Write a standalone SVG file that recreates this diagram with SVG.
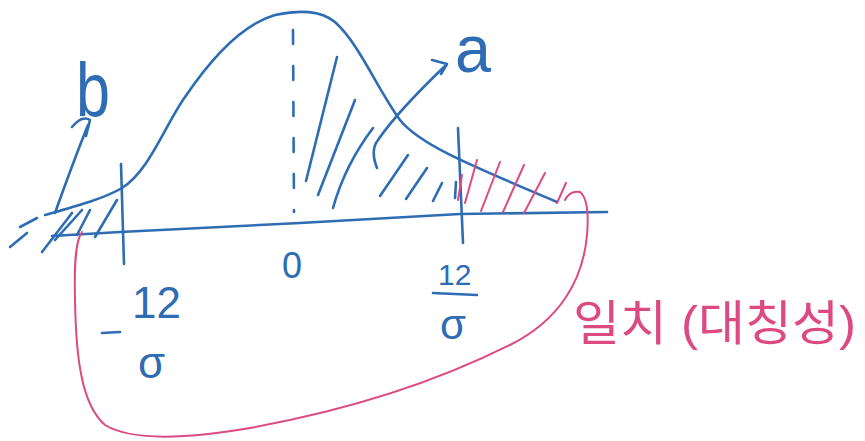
<svg xmlns="http://www.w3.org/2000/svg" width="865" height="441" viewBox="0 0 865 441">
<style>
.b{fill:none;stroke:#2e6cb3;stroke-width:2.6;stroke-linecap:round;stroke-linejoin:round}
.p{fill:none;stroke:#dd4a82;stroke-width:2;stroke-linecap:round;stroke-linejoin:round}
.bt{fill:#2e6cb3;font-family:"Liberation Sans","DejaVu Sans",sans-serif}
.pt{fill:#dd4a82;font-family:"Liberation Sans","Noto Sans CJK KR",sans-serif}
</style>
<rect width="865" height="441" fill="#ffffff"/>
<g id="axis">
<path class="b" d="M 52,236 L 120,232 L 300,223 L 460,214 L 607,212"/>
</g>
<g id="bell-curve">
<path class="b" d="M 45,215 C 80,205 105,198 122,188 C 150,170 165,125 185,97 C 210,60 240,25 275,15 C 300,10 320,10 335,22 C 360,45 375,85 400,120 C 420,145 470,165 557,202"/>
<path class="b" d="M 293,30 L 294,212" stroke-dasharray="14 22" stroke-width="2"/>
<path class="b" d="M 121,164 L 124,264"/>
<path class="b" d="M 458,128 L 463,243"/>
</g>
<g id="left-hatch">
<path class="b" d="M 10,247 L 27,233 M 20,227 L 37,218 M 42,252 L 72,213 M 55,240 L 82,210 M 77,235 L 90,210 M 95,237 L 117,200" stroke-width="2.2"/>
</g>
<g id="center-hatch">
<path class="b" d="M 337,57 L 306,181 M 355,100 L 318,195 M 373,128 Q 345,165 333,208 M 408,155 L 380,196 M 427,168 L 406,199 M 442,183 L 433,201 M 456,182 L 455,198" stroke-width="2.2"/>
</g>
<g id="right-hatch">
<path class="p" d="M 462,175 L 458,200 M 477,160 L 465,203 M 500,162 L 481,211 M 524,165 L 503,212 M 545,173 L 524,213 M 566,183 L 557,203"/>
</g>
<g id="connectors">
<path class="b" d="M 55,213 C 65,185 78,150 88,125"/>
<path class="b" d="M 72,127 Q 82,115 90,120 L 86,136" stroke-width="2.3"/>
<path class="b" d="M 377,168 Q 370,150 378,140 C 395,115 420,90 445,66"/>
<path class="b" d="M 432,60 L 447,64 L 441,74" stroke-width="2.3"/>
<path class="p" d="M 565,200 Q 570,190 580,192 Q 590,200 587,235 C 583,280 560,320 510,345 C 440,380 350,410 250,428 C 180,440 130,440 105,425 C 82,405 76,360 75,300 C 74,260 76,240 82,232"/>
</g>
<g id="labels">
<text class="bt" x="76" y="116" font-size="76" textLength="34" lengthAdjust="spacingAndGlyphs">b</text>
<text class="bt" x="455" y="72" font-size="66" textLength="36" lengthAdjust="spacingAndGlyphs">a</text>
<text class="bt" x="282" y="278" font-size="36">0</text>
<text class="bt" x="132" y="318" font-size="44">12</text>
<path class="b" d="M 102,333 L 120,332" stroke-width="2.2"/>
<text class="bt" x="138" y="378" font-size="44">σ</text>
<text class="bt" x="438" y="285" font-size="30">12</text>
<path class="b" d="M 433,293 L 477,295" stroke-width="2.2"/>
<text class="bt" x="440" y="339" font-size="42">σ</text>
<text class="pt" x="573" y="340" font-size="48" textLength="283" lengthAdjust="spacingAndGlyphs">일치 (대칭성)</text>
</g>
</svg>
